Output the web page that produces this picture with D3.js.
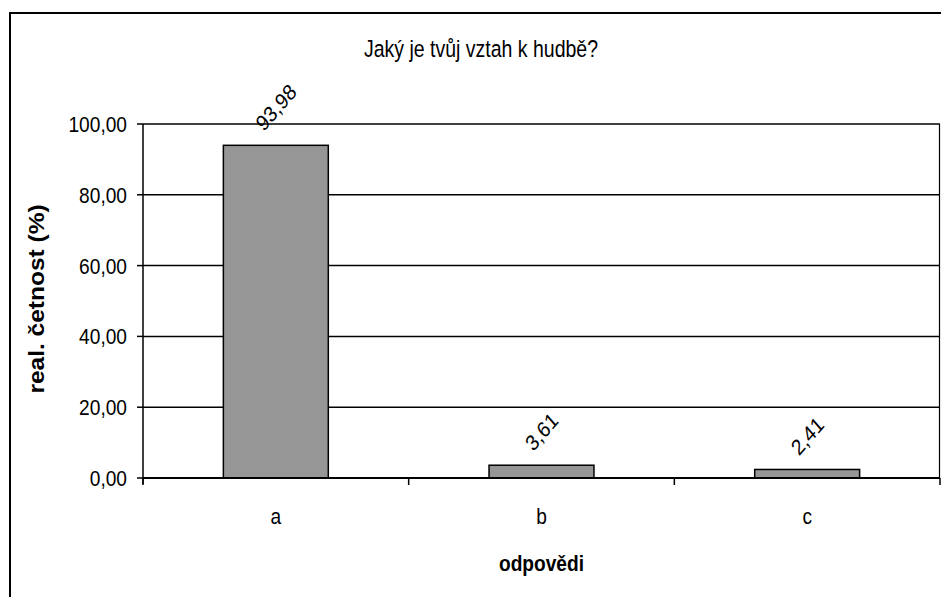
<!DOCTYPE html>
<html><head><meta charset="utf-8">
<script src="https://cdn.jsdelivr.net/npm/d3@7"></script>
<style>body{margin:0;background:#fff}svg{display:block}text{font-family:"Liberation Sans",Arial,sans-serif;fill:#000}</style>
</head><body>
<script>
const categories = ["a","b","c"];
const values = [93.98, 3.61, 2.41];
const yTicks = [0,20,40,60,80,100];
const title = "Jaký je tvůj vztah k hudbě?";
const xTitle = "odpovědi";
const yTitle = "real. četnost (%)";

const W = 941, H = 597;
const SX = 0.87;
const fmt = v => d3.format(".2f")(v).replace(".", ",");
const svg = d3.select("body").append("svg").attr("width", W).attr("height", H);

svg.append("rect").attr("x",10).attr("y",13).attr("width",940).attr("height",600)
  .attr("fill","#fff").attr("stroke","#000").attr("stroke-width",2);

const m = {l:143, r:940, t:124, b:478};
const x = d3.scaleBand().domain(categories).range([m.l, m.r]).paddingInner(0).paddingOuter(0);
const y = d3.scaleLinear().domain([0,100]).range([m.b, m.t]);
const barW = x.bandwidth()*0.395;

function txt(g, px, py, s, opts={}) {
  const sx = opts.sx || SX;
  const t = g.append("text")
    .attr("transform", `translate(${px},${py}) scale(${sx},1)` + (opts.rot ? ` rotate(${opts.rot})` : ""))
    .attr("text-anchor", opts.anchor || "middle")
    .attr("font-size", opts.size || 22)
    .attr("font-weight", opts.bold ? "bold" : "normal")
    .text(s);
  if (opts.baseline) t.attr("dominant-baseline", opts.baseline);
  return t;
}

// gridlines
svg.append("g").selectAll("line").data(yTicks.filter(d=>d>0)).join("line")
  .attr("x1", m.l).attr("x2", m.r).attr("y1", d=>y(d)).attr("y2", d=>y(d))
  .attr("stroke","#000").attr("stroke-width",1.5);
// right border of plot area
svg.append("line").attr("x1",m.r-0.5).attr("x2",m.r-0.5).attr("y1",m.t).attr("y2",m.b)
  .attr("stroke","#000").attr("stroke-width",1.2);

// bars
svg.append("g").selectAll("rect").data(values).join("rect")
  .attr("x",(d,i)=>x(categories[i]) + (x.bandwidth()-barW)/2)
  .attr("width", barW)
  .attr("y", d=>y(d)).attr("height", d=>y(0)-y(d))
  .attr("fill","#969696").attr("stroke","#000").attr("stroke-width",1.5);

// y axis
const ya = svg.append("g");
ya.append("line").attr("x1",m.l).attr("x2",m.l).attr("y1",m.t).attr("y2",m.b+6).attr("stroke","#000").attr("stroke-width",1.5);
ya.selectAll("line.t").data(yTicks).join("line").attr("class","t")
  .attr("x1",m.l-6).attr("x2",m.l).attr("y1",d=>y(d)).attr("y2",d=>y(d)).attr("stroke","#000").attr("stroke-width",1.5);
yTicks.forEach(d => txt(ya, m.l-16, y(d)+8, fmt(d), {anchor:"end"}));

// x axis
const xa = svg.append("g");
xa.append("line").attr("x1",m.l).attr("x2",m.r).attr("y1",m.b).attr("y2",m.b).attr("stroke","#000").attr("stroke-width",2);
const bounds = categories.map(c=>x(c)).concat([m.r]);
xa.selectAll("line.t").data(bounds).join("line").attr("class","t")
  .attr("x1",d=>d).attr("x2",d=>d).attr("y1",m.b).attr("y2",m.b+7).attr("stroke","#000").attr("stroke-width",1.5);
categories.forEach(c => txt(xa, x(c)+x.bandwidth()/2, m.b+46, c));

// value labels
const lg = svg.append("g");
values.forEach((v,i) => {
  const cx = x(categories[i]) + x.bandwidth()/2;
  const t = txt(lg, 0, 0, fmt(v), {rot:-45, baseline:"central"});
  const bb = t.node().getBBox();
  const half = (bb.width + 16) * 0.707 / 2;
  t.attr("transform", `translate(${cx},${y(v) - 13 - half}) scale(${SX},1) rotate(-45)`);
});

// titles
txt(svg, 481, 57, title, {size:23.5, sx:0.83});
txt(svg, x("b")+x.bandwidth()/2, 571, xTitle, {bold:true});
svg.append("text")
  .attr("transform", `translate(44,299) scale(${SX},1) rotate(-90)`)
  .attr("text-anchor","middle").attr("font-size",24.5).attr("font-weight","bold").text(yTitle);
</script>
</body></html>
